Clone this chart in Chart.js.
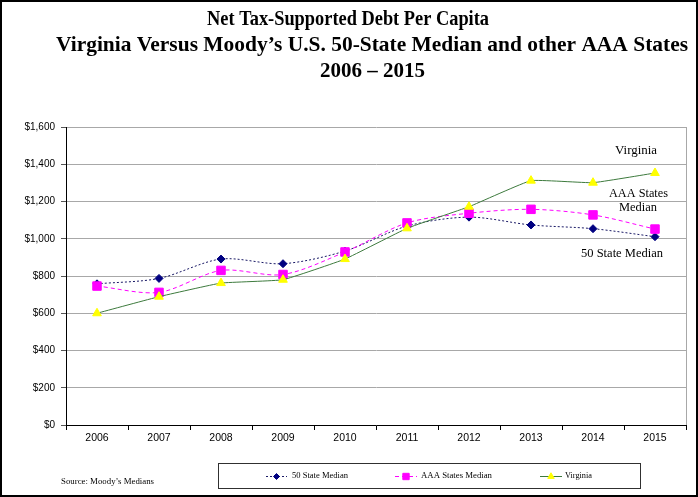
<!DOCTYPE html>
<html>
<head>
<meta charset="utf-8">
<script src="https://cdn.jsdelivr.net/npm/chart.js@4/dist/chart.umd.min.js"></script>
<style>
html,body{margin:0;padding:0;background:#fff;}
canvas{display:block;}
</style>
</head>
<body>
<canvas id="c" width="698" height="497"></canvas>
<script>
const categories = ['2006','2007','2008','2009','2010','2011','2012','2013','2014','2015'];
const fiftyStateMedian = [758, 787, 891, 866, 934, 1068, 1116, 1074, 1054, 1011];
const aaaStatesMedian = [746, 712, 830, 808, 929, 1085, 1137, 1158, 1128, 1052];
const virginia = [600, 689, 762, 780, 891, 1056, 1172, 1312, 1301, 1353];
const yTickValues = [0, 200, 400, 600, 800, 1000, 1200, 1400, 1600];
const seriesNames = ['50 State Median', 'AAA States Median', 'Virginia'];
const titleLines = ['Net Tax-Supported Debt Per Capita', 'Virginia Versus Moody\u2019s U.S. 50-State Median and other AAA States', '2006 \u2013 2015'];
const sourceNote = 'Source: Moody\u2019s Medians';

function fitText(ctx, text, left, y, width, font, color) {
  ctx.save();
  ctx.font = font;
  ctx.fillStyle = color || '#000';
  ctx.textBaseline = 'middle';
  ctx.textAlign = 'left';
  const m = ctx.measureText(text).width;
  ctx.translate(left, y);
  ctx.scale(width / m, 1);
  ctx.fillText(text, 0, 0);
  ctx.restore();
}

const decor = {
  id: 'decor',
  afterDraw(chart) {
    const ctx = chart.ctx;
    const a = chart.chartArea;
    // right edge of plot
    ctx.save();
    ctx.strokeStyle = '#a8a8a8';
    ctx.lineWidth = 1;
    ctx.beginPath();
    ctx.moveTo(Math.round(a.right) + 0.5, a.top);
    ctx.lineTo(Math.round(a.right) + 0.5, a.bottom);
    ctx.stroke();
    ctx.restore();

    // Title
    const tf = 'bold 21px "Liberation Serif", "Times New Roman", serif';
    fitText(ctx, titleLines[0], 207, 20, 282, tf);
    fitText(ctx, titleLines[1], 56, 46, 632, tf);
    fitText(ctx, titleLines[2], 320, 72, 105, tf);

    // Series labels in plot
    const af = '13px "Liberation Serif", "Times New Roman", serif';
    fitText(ctx, 'Virginia', 615, 151, 42, af);
    fitText(ctx, 'AAA States', 609, 194, 59, af);
    fitText(ctx, 'Median', 619, 208, 38, af);
    fitText(ctx, '50 State Median', 581, 254, 82, af);

    // Source
    fitText(ctx, sourceNote, 61, 482, 93, '9px "Liberation Serif", "Times New Roman", serif');

    // Legend
    ctx.save();
    ctx.strokeStyle = '#303030';
    ctx.lineWidth = 1;
    ctx.strokeRect(218.5, 463.5, 422, 25);
    ctx.restore();
    const items = [
      {ds: 0, x0: 266, x1: 287, tx: 292, tw: 56},
      {ds: 1, x0: 395, x1: 417, tx: 421, tw: 71},
      {ds: 2, x0: 540, x1: 562, tx: 565, tw: 27}
    ];
    const ly = 476;
    items.forEach(it => {
      const d = chart.data.datasets[it.ds];
      ctx.save();
      ctx.strokeStyle = d.borderColor;
      ctx.lineWidth = 1;
      ctx.setLineDash(d.borderDash || []);
      ctx.beginPath();
      ctx.moveTo(it.x0, ly + 0.5);
      ctx.lineTo(it.x1, ly + 0.5);
      ctx.stroke();
      ctx.setLineDash([]);
      ctx.fillStyle = d.pointBackgroundColor;
      ctx.strokeStyle = d.pointBorderColor;
      Chart.helpers.drawPoint(ctx, {pointStyle: d.pointStyle, radius: d.pointRadius * 0.75, borderWidth: 1, rotation: 0}, (it.x0 + it.x1) / 2, ly + 0.5);
      ctx.restore();
      fitText(ctx, seriesNames[it.ds], it.tx, ly, it.tw, '9px "Liberation Serif", "Times New Roman", serif');
    });

    // outer border
    ctx.save();
    ctx.strokeStyle = '#000';
    ctx.lineWidth = 2;
    ctx.strokeRect(1, 1, chart.width - 2, chart.height - 2);
    ctx.restore();
  }
};

new Chart(document.getElementById('c'), {
  type: 'line',
  data: {
    labels: categories,
    datasets: [
      {
        label: seriesNames[0],
        data: fiftyStateMedian,
        borderColor: '#1a1a66',
        borderWidth: 1,
        borderDash: [2, 2],
        pointStyle: 'rectRot',
        pointRadius: 4,
        pointBackgroundColor: '#000080',
        pointBorderColor: '#000080',
        tension: 0.3,
        order: 2
      },
      {
        label: seriesNames[1],
        data: aaaStatesMedian,
        borderColor: '#ff00ff',
        borderWidth: 1,
        borderDash: [4, 3],
        pointStyle: 'rect',
        pointRadius: 6,
        pointBackgroundColor: '#ff00ff',
        pointBorderColor: '#ff00ff',
        tension: 0.3,
        order: 1
      },
      {
        label: seriesNames[2],
        data: virginia,
        borderColor: '#3d7a3d',
        borderWidth: 1,
        pointStyle: 'triangle',
        pointRadius: 5,
        pointBackgroundColor: '#ffff00',
        pointBorderColor: '#ffff00',
        tension: 0.1,
        order: 0
      }
    ]
  },
  options: {
    responsive: false,
    animation: false,
    devicePixelRatio: 1,
    layout: {padding: {left: 0, right: 12, top: 127, bottom: 42}},
    plugins: {legend: {display: false}, title: {display: false}, tooltip: {enabled: false}},
    scales: {
      x: {
        offset: true,
        grid: {offset: true, drawOnChartArea: false, drawTicks: true, tickLength: 5, tickColor: '#000'},
        border: {color: '#000', width: 1},
        ticks: {color: '#000', padding: 2, maxRotation: 0, autoSkip: false,
          font: {family: '"Liberation Sans", Arial, sans-serif', size: 10.5}},
        afterFit(s) { s.height = 30; }
      },
      y: {
        min: 0, max: 1600,
        afterBuildTicks(s) { s.ticks = yTickValues.map(v => ({value: v})); },
        grid: {color: '#a8a8a8', tickColor: '#555', tickLength: 5},
        border: {color: '#000', width: 1},
        ticks: {color: '#000', padding: 6,
          font: {family: '"Liberation Sans", Arial, sans-serif', size: 10},
          callback: v => '$' + Number(v).toLocaleString('en-US')},
        afterFit(s) { s.width = 66; }
      }
    }
  },
  plugins: [decor]
});
</script>
</body>
</html>
